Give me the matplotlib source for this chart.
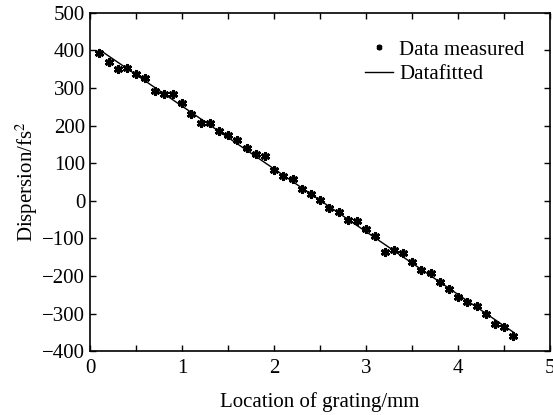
import numpy as np
import matplotlib.pyplot as plt

plt.rcParams.update({
    "font.family": "Liberation Serif",
    "font.size": 15,
    "mathtext.fontset": "stix",
    "xtick.direction": "in",
    "ytick.direction": "in",
    "xtick.top": True,
    "ytick.right": True,
})

# measured dispersion vs. grating location
location = [0.1, 0.2, 0.3, 0.4, 0.5, 0.6, 0.7, 0.8, 0.9, 1.0,
            1.1, 1.2, 1.3, 1.4, 1.5, 1.6, 1.7, 1.8, 1.9, 2.0,
            2.1, 2.2, 2.3, 2.4, 2.5, 2.6, 2.7, 2.8, 2.9, 3.0,
            3.1, 3.2, 3.3, 3.4, 3.5, 3.6, 3.7, 3.8, 3.9, 4.0,
            4.1, 4.2, 4.3, 4.4, 4.5, 4.6]
dispersion = [393, 370, 351, 352, 336, 326, 291, 285, 283, 259,
              232, 208, 206, 185, 174, 161, 140, 124, 118, 82,
              66, 58, 30, 18, 2, -18, -31, -52, -55, -74,
              -94, -135, -132, -140, -164, -183, -191, -215, -234, -256,
              -269, -280, -302, -329, -335, -361]

x = np.array(location)
y = np.array(dispersion)
k, b = np.polyfit(x, y, 1)
xf = np.array([x[0], x[-1]])

fig = plt.figure(figsize=(5.53, 4.15), dpi=100)
ax = fig.add_axes([0.163, 0.154, 0.832, 0.815])

ax.plot(x, y, ls="none", marker=(6, 2, 0), ms=6.5, mew=2.0, color="black",
        label="Data measured")
ax.plot(xf, k * xf + b, "-", color="black", lw=1.0, label="Datafitted")

ax.set_xlim(0, 5)
ax.set_ylim(-400, 500)
ax.set_xticks([0, 1, 2, 3, 4, 5])
ax.set_xticks(np.arange(0.5, 5, 1.0), minor=True)
ax.set_yticks(np.arange(-400, 501, 100))
ax.tick_params(which="both", length=4, width=1)
ax.tick_params(axis="x", pad=6)
for s in ax.spines.values():
    s.set_linewidth(1.2)

ax.set_xlabel("Location of grating/mm", labelpad=10)
ax.set_ylabel("Dispersion/fs$^2$", labelpad=2)

leg = ax.legend(loc="upper right", frameon=False, handlelength=1.35,
                handletextpad=0.3, borderaxespad=0.5, labelspacing=0.25,
                bbox_to_anchor=(0.985, 0.975))
leg.legend_handles[0].set_markersize(4)
leg.legend_handles[0].set_markeredgewidth(1.5)

fig.savefig("out.png", dpi=100)
